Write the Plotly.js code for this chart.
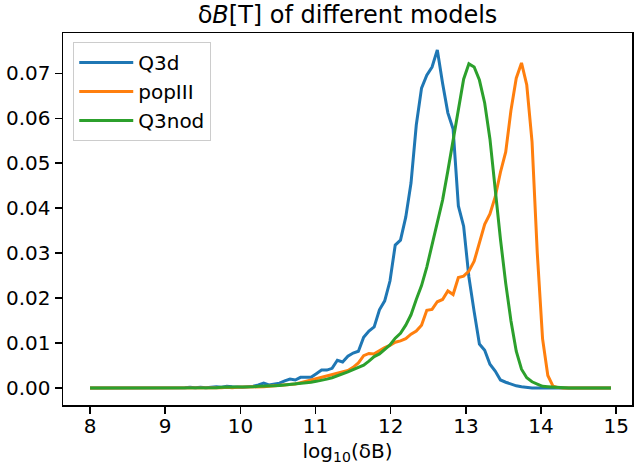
<!DOCTYPE html>
<html>
<head>
<meta charset="utf-8">
<script src="https://cdn.plot.ly/plotly-3.0.1.min.js"></script>
<style>
  html, body { margin: 0; padding: 0; background: #ffffff; }
  #chart { width: 634px; height: 465px; }
</style>
</head>
<body>
<div id="chart"></div>
<script>
// log10(dB) bin positions
const logB = [
  8.00, 8.07, 8.14, 8.21, 8.28, 8.35, 8.42, 8.49, 8.56, 8.63,
  8.70, 8.77, 8.84, 8.91, 8.98, 9.05, 9.12, 9.19, 9.26, 9.33,
  9.40, 9.47, 9.54, 9.61, 9.68, 9.75, 9.82, 9.89, 9.96, 10.03,
  10.10, 10.17, 10.24, 10.31, 10.38, 10.45, 10.52, 10.59, 10.66, 10.73,
  10.80, 10.87, 10.94, 11.01, 11.08, 11.15, 11.22, 11.29, 11.36, 11.43,
  11.50, 11.57, 11.64, 11.71, 11.78, 11.85, 11.92, 11.99, 12.06, 12.13,
  12.20, 12.27, 12.34, 12.41, 12.48, 12.55, 12.62, 12.69, 12.76, 12.83,
  12.90, 12.97, 13.04, 13.11, 13.18, 13.25, 13.32, 13.39, 13.46, 13.53,
  13.60, 13.67, 13.74, 13.81, 13.88, 13.95, 14.02, 14.09, 14.16, 14.23,
  14.30, 14.37, 14.44, 14.51, 14.58, 14.65, 14.72, 14.79, 14.86, 14.93
];

// Normalised distributions per model
const q3d = [
  0, 0, 0, 0, 0, 0, 0, 0, 0, 0.0001,
  0, 0, 0.0001, 0, 0.0001, 0.0001, 0, 0.0001, 0.0001, 0.0002,
  0.0001, 0.0002, 0.0001, 0.0002, 0.0003, 0.0002, 0.0004, 0.0003, 0.0002, 0.0002,
  0.0003, 0.0004, 0.0007, 0.0011, 0.0007, 0.0009, 0.0011, 0.0016, 0.0020, 0.0018,
  0.0024, 0.0024, 0.0024, 0.0032, 0.0040, 0.0040, 0.0044, 0.0062, 0.0058, 0.0071,
  0.0078, 0.0082, 0.0113, 0.0127, 0.0136, 0.0174, 0.0194, 0.0238, 0.0318, 0.0329,
  0.0380, 0.0456, 0.0585, 0.0667, 0.0696, 0.0714, 0.0752, 0.0678, 0.0612, 0.0576,
  0.0405, 0.0360, 0.0247, 0.0170, 0.0098, 0.0084, 0.0053, 0.0038, 0.0018, 0.0013,
  0.0009, 0.0005, 0.0003, 0.0001, 0, 0, 0, 0, 0, 0,
  0, 0, 0, 0, 0, 0, 0, 0, 0, 0
];

const popIII = [
  0, 0, 0, 0, 0, 0, 0, 0, 0, 0,
  0, 0, 0, 0, 0, 0, 0, 0, 0, 0.0001,
  0, 0.0001, 0, 0.0001, 0.0001, 0.0001, 0.0002, 0.0001, 0.0002, 0.0002,
  0.0002, 0.0003, 0.0003, 0.0003, 0.0004, 0.0005, 0.0006, 0.0007, 0.0008, 0.0009,
  0.0012, 0.0015, 0.0018, 0.0021, 0.0023, 0.0027, 0.0030, 0.0032, 0.0036, 0.0039,
  0.0046, 0.0056, 0.0072, 0.0077, 0.0076, 0.0084, 0.0090, 0.0095, 0.0102, 0.0105,
  0.0110, 0.0120, 0.0127, 0.0140, 0.0173, 0.0175, 0.0192, 0.0197, 0.0216, 0.0208,
  0.0246, 0.0249, 0.0260, 0.0282, 0.0322, 0.0364, 0.0387, 0.0425, 0.0480, 0.0525,
  0.0618, 0.0689, 0.0723, 0.0674, 0.0548, 0.0300, 0.0110, 0.0028, 0.0004, 0.0001,
  0, 0, 0, 0, 0, 0, 0, 0, 0, 0
];

const q3nod = [
  0, 0, 0, 0, 0, 0, 0, 0, 0, 0,
  0, 0, 0, 0, 0, 0, 0, 0, 0.0001, 0.0001,
  0.0001, 0.0001, 0.0001, 0.0001, 0.0001, 0.0002, 0.0002, 0.0002, 0.0002, 0.0003,
  0.0003, 0.0003, 0.0004, 0.0004, 0.0005, 0.0005, 0.0006, 0.0007, 0.0008, 0.0009,
  0.0010, 0.0011, 0.0013, 0.0015, 0.0017, 0.0020, 0.0023, 0.0027, 0.0031, 0.0036,
  0.0041, 0.0046, 0.0051, 0.0060, 0.0070, 0.0076, 0.0086, 0.0096, 0.0111, 0.0122,
  0.0140, 0.0163, 0.0197, 0.0228, 0.0269, 0.0318, 0.0367, 0.0418, 0.0483, 0.0552,
  0.0620, 0.0687, 0.0721, 0.0714, 0.0685, 0.0634, 0.0554, 0.0440, 0.0331, 0.0233,
  0.0149, 0.0082, 0.0042, 0.0023, 0.0014, 0.0009, 0.0004, 0.0003, 0.0002, 0.0001,
  0, 0, 0, 0, 0, 0, 0, 0, 0, 0
];

const seriesNames = ['Q3d', 'popIII', 'Q3nod'];
const seriesColors = ['#1f77b4', '#ff7f0e', '#2ca02c'];
const seriesValues = [q3d, popIII, q3nod];

const xTicks = [8, 9, 10, 11, 12, 13, 14, 15];
const yTicks = [0, 0.01, 0.02, 0.03, 0.04, 0.05, 0.06, 0.07];

const FONT = 'DejaVu Sans, sans-serif';

const traces = seriesNames.map((name, k) => ({
  type: 'scatter',
  mode: 'lines',
  name: name,
  x: logB,
  y: seriesValues[k],
  line: { color: seriesColors[k], width: 3 }
}));

const axisCommon = {
  showgrid: false,
  zeroline: false,
  showline: true,
  mirror: true,
  linecolor: '#000000',
  linewidth: 1.5,
  ticks: 'outside',
  ticklen: 7,
  tickwidth: 1.5,
  tickcolor: '#000000',
  tickfont: { family: FONT, size: 20, color: '#000000' }
};

const layout = {
  width: 634,
  height: 465,
  margin: { l: 63, r: 2, t: 33, b: 60 },
  paper_bgcolor: '#ffffff',
  plot_bgcolor: '#ffffff',
  font: { family: FONT, size: 20, color: '#000000' },
  title: {
    text: 'δ<i>B</i>[T] of different models',
    font: { family: FONT, size: 24, color: '#000000' },
    x: 0.5,
    xref: 'paper',
    xanchor: 'center',
    y: 1 - 15 / 465,
    yref: 'container',
    yanchor: 'middle'
  },
  xaxis: Object.assign({}, axisCommon, {
    range: [7.64, 15.21],
    tickvals: xTicks,
    ticktext: xTicks.map(String),
    ticklabelstandoff: -5,
    title: {
      text: 'log<sub>10</sub>(δB)',
      font: { family: FONT, size: 20, color: '#000000' },
      standoff: 14
    }
  }),
  yaxis: Object.assign({}, axisCommon, {
    range: [-0.00376, 0.07896],
    tickvals: yTicks,
    ticktext: yTicks.map(v => v.toFixed(2))
  }),
  showlegend: true,
  legend: {
    x: 0.018,
    y: 0.976,
    xanchor: 'left',
    yanchor: 'top',
    itemwidth: 54,
    bgcolor: 'rgba(255,255,255,0.8)',
    bordercolor: '#cccccc',
    borderwidth: 1,
    font: { family: FONT, size: 20, color: '#000000' }
  }
};

Plotly.newPlot('chart', traces, layout, { displayModeBar: false, staticPlot: true });
</script>
</body>
</html>
